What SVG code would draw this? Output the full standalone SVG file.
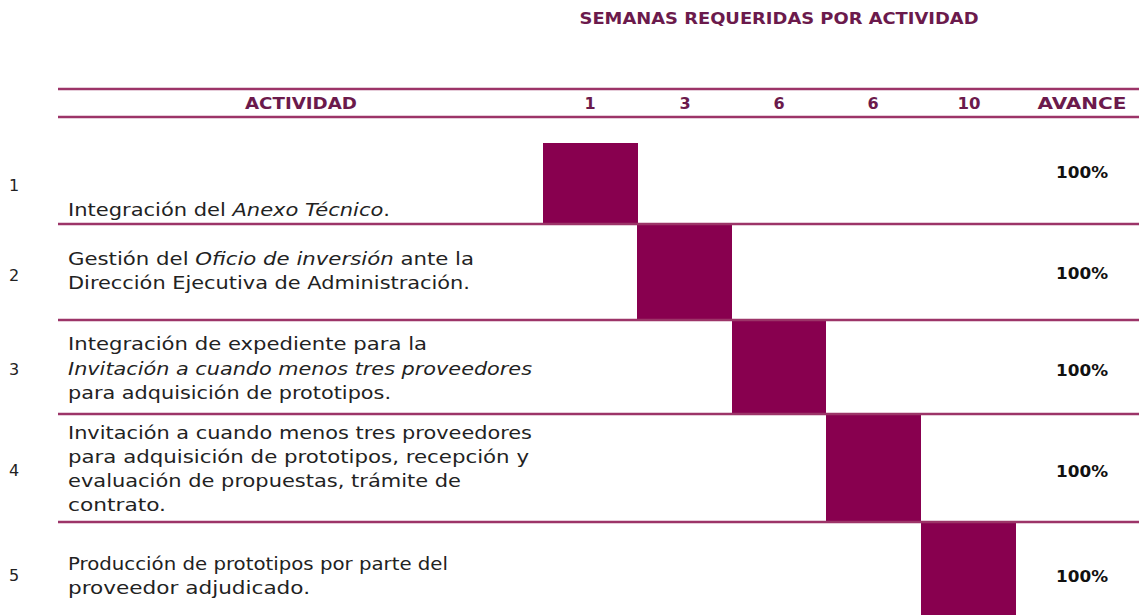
<svg xmlns="http://www.w3.org/2000/svg" width="1139" height="615" viewBox="0 0 1139 615">
<style>
.hd{font-family:"DejaVu Sans","Liberation Sans",sans-serif;font-weight:bold;font-size:16px;fill:#6B1A4C;text-anchor:middle}
.tx{font-family:"DejaVu Sans","Liberation Sans",sans-serif;font-size:18px;fill:#222}
.num{font-family:"DejaVu Sans","Liberation Sans",sans-serif;font-size:16px;fill:#222}
.pc{font-family:"DejaVu Sans","Liberation Sans",sans-serif;font-weight:bold;font-size:16px;fill:#111;text-anchor:middle}
.ln{stroke:#9C3468;stroke-width:2.5}
.bar{fill:#88004F}
</style>
<rect width="1139" height="615" fill="#fff"/>
<text class="hd" x="779" y="24" font-size="15" textLength="399" lengthAdjust="spacingAndGlyphs">SEMANAS REQUERIDAS POR ACTIVIDAD</text>
<g id="bars">
<rect class="bar" x="543" y="143" width="95" height="81"/>
<rect class="bar" x="637" y="224" width="95" height="96"/>
<rect class="bar" x="732" y="320" width="94" height="94"/>
<rect class="bar" x="826" y="414" width="95" height="108"/>
<rect class="bar" x="921" y="522" width="95" height="93"/>
</g>
<g id="lines">
<line class="ln" x1="58" y1="89" x2="1139" y2="89"/>
<line class="ln" x1="58" y1="117" x2="1139" y2="117"/>
<line class="ln" x1="58" y1="224" x2="1139" y2="224"/>
<line class="ln" x1="58" y1="320" x2="1139" y2="320"/>
<line class="ln" x1="58" y1="414" x2="1139" y2="414"/>
<line class="ln" x1="58" y1="522" x2="1139" y2="522"/>
</g>
<g id="header">
<text class="hd" x="301" y="109" textLength="112" lengthAdjust="spacingAndGlyphs">ACTIVIDAD</text>
<text class="hd" x="590" y="109">1</text>
<text class="hd" x="685" y="109">3</text>
<text class="hd" x="779" y="109">6</text>
<text class="hd" x="873" y="109">6</text>
<text class="hd" x="969" y="109" textLength="23" lengthAdjust="spacingAndGlyphs">10</text>
<text class="hd" x="1082" y="109" textLength="89" lengthAdjust="spacingAndGlyphs">AVANCE</text>
</g>
<g id="row1">
<text class="num" x="9" y="191">1</text>
<text class="tx" x="68" y="216" textLength="322" lengthAdjust="spacingAndGlyphs">Integración del <tspan font-style="italic">Anexo Técnico</tspan>.</text>
<text class="pc" x="1082" y="178" textLength="52" lengthAdjust="spacingAndGlyphs">100%</text>
</g>
<g id="row2">
<text class="num" x="9" y="281">2</text>
<text class="tx" x="68" y="265" textLength="406" lengthAdjust="spacingAndGlyphs">Gestión del <tspan font-style="italic">Oficio de inversión</tspan> ante la</text>
<text class="tx" x="68" y="289" textLength="402" lengthAdjust="spacingAndGlyphs">Dirección Ejecutiva de Administración.</text>
<text class="pc" x="1082" y="279" textLength="52" lengthAdjust="spacingAndGlyphs">100%</text>
</g>
<g id="row3">
<text class="num" x="9" y="375">3</text>
<text class="tx" x="68" y="350" textLength="359" lengthAdjust="spacingAndGlyphs">Integración de expediente para la</text>
<text class="tx" x="68" y="375" textLength="464" lengthAdjust="spacingAndGlyphs" font-style="italic">Invitación a cuando menos tres proveedores</text>
<text class="tx" x="68" y="399" textLength="323" lengthAdjust="spacingAndGlyphs">para adquisición de prototipos.</text>
<text class="pc" x="1082" y="376" textLength="52" lengthAdjust="spacingAndGlyphs">100%</text>
</g>
<g id="row4">
<text class="num" x="9" y="476">4</text>
<text class="tx" x="68" y="439" textLength="464" lengthAdjust="spacingAndGlyphs">Invitación a cuando menos tres proveedores</text>
<text class="tx" x="68" y="463" textLength="461" lengthAdjust="spacingAndGlyphs">para adquisición de prototipos, recepción y</text>
<text class="tx" x="68" y="487" textLength="393" lengthAdjust="spacingAndGlyphs">evaluación de propuestas, trámite de</text>
<text class="tx" x="68" y="511" textLength="98" lengthAdjust="spacingAndGlyphs">contrato.</text>
<text class="pc" x="1082" y="477" textLength="52" lengthAdjust="spacingAndGlyphs">100%</text>
</g>
<g id="row5">
<text class="num" x="9" y="581">5</text>
<text class="tx" x="68" y="570" textLength="380" lengthAdjust="spacingAndGlyphs">Producción de prototipos por parte del</text>
<text class="tx" x="68" y="594" textLength="242" lengthAdjust="spacingAndGlyphs">proveedor adjudicado.</text>
<text class="pc" x="1082" y="582" textLength="52" lengthAdjust="spacingAndGlyphs">100%</text>
</g>
</svg>
